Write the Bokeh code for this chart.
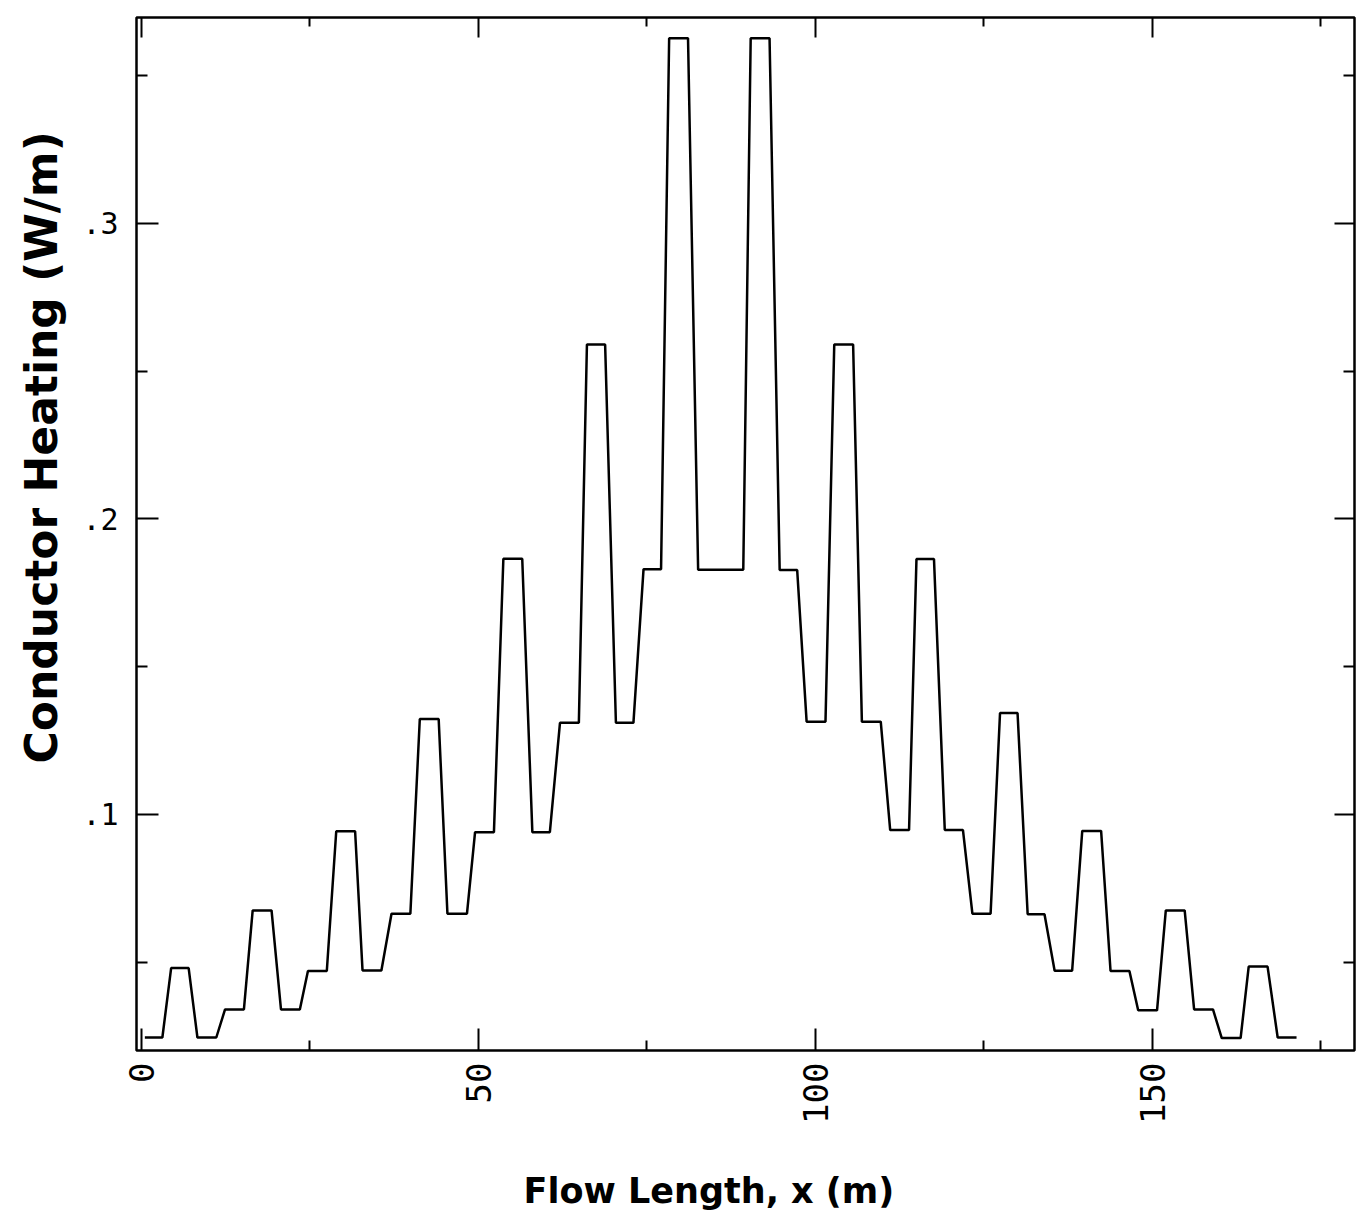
import math
from bokeh.plotting import figure
from bokeh.models import (Range1d, FixedTicker, LinearAxis, CustomJSTickFormatter, Title)
from bokeh.embed import file_html
from bokeh.resources import INLINE

# Step segments: start x, end x, level (W/m)
seg_start = [0.5, 4.4, 8.3, 12.4, 16.5, 20.7, 24.7, 28.9, 32.8, 37.1, 41.3, 45.4, 49.5, 53.7,
             58.0, 62.1, 66.1, 70.4, 74.5, 78.3, 82.6, 90.4, 94.7, 98.7, 102.8, 106.9, 111.1,
             115.0, 119.2, 123.3, 127.4, 131.5, 135.5, 139.6, 143.8, 147.9, 152.0, 156.2,
             160.3, 164.3, 168.6]
seg_end = [3.1, 7.0, 11.1, 15.2, 19.3, 23.5, 27.5, 31.7, 35.6, 39.9, 44.1, 48.3, 52.3, 56.5,
           60.6, 64.9, 68.8, 73.0, 77.1, 81.1, 89.3, 93.2, 97.3, 101.5, 105.6, 109.7, 113.9,
           117.6, 121.9, 126.0, 130.0, 134.0, 138.1, 142.4, 146.6, 150.7, 154.8, 159.0,
           163.1, 167.1, 171.4]
levels = [0.0245, 0.048, 0.0245, 0.034, 0.0675, 0.034, 0.047, 0.0943, 0.0472, 0.0664, 0.1323,
          0.0664, 0.094, 0.1865, 0.094, 0.131, 0.259, 0.131, 0.183, 0.3627, 0.1828, 0.3627,
          0.1827, 0.1314, 0.259, 0.1314, 0.0947, 0.1864, 0.0947, 0.0664, 0.1343, 0.0662,
          0.0471, 0.0944, 0.047, 0.0337, 0.0675, 0.034, 0.0243, 0.0485, 0.0245]

x_major = [0, 50, 100, 150]
x_minor = [25, 75, 125, 175]
y_major = [0.1, 0.2, 0.3]
y_minor = [0.05, 0.15, 0.25, 0.35]

xs, ys = [], []
for a, b, v in zip(seg_start, seg_end, levels):
    xs += [a, b]
    ys += [v, v]

p = figure(frame_width=1218, frame_height=1033,
           x_range=Range1d(-0.74, 180.0), y_range=Range1d(0.0201, 0.3697),
           output_backend="svg", toolbar_location=None,
           min_border_left=136, min_border_right=14, min_border_top=17, min_border_bottom=168)
p.background_fill_color = "white"
p.border_fill_color = "white"
p.outline_line_color = "black"
p.outline_line_width = 2.5
p.xgrid.visible = False
p.ygrid.visible = False

p.line(xs, ys, line_color="black", line_width=2.5)

fmt_y = CustomJSTickFormatter(code="return tick.toFixed(1).replace(/^0/, '');")
blank = CustomJSTickFormatter(code="return '';")

def style(ax, major_len, minor_len):
    ax.axis_line_color = None
    ax.major_tick_in = major_len
    ax.major_tick_out = 0
    ax.minor_tick_in = minor_len
    ax.minor_tick_out = 0
    ax.major_tick_line_color = "black"
    ax.minor_tick_line_color = "black"
    ax.major_tick_line_width = 2
    ax.minor_tick_line_width = 2

xb = p.xaxis[0]
xb.ticker = FixedTicker(ticks=x_major, minor_ticks=x_minor)
style(xb, 22, 10)
xb.major_label_orientation = math.pi / 2
xb.major_label_text_font = "DejaVu Sans Mono"
xb.major_label_text_font_size = "34px"
xb.major_label_text_color = "black"
xb.major_label_standoff = 12

yl = p.yaxis[0]
yl.ticker = FixedTicker(ticks=y_major, minor_ticks=y_minor)
yl.formatter = fmt_y
style(yl, 22, 11)
yl.major_label_text_font = "DejaVu Sans Mono"
yl.major_label_text_font_size = "30px"
yl.major_label_text_color = "black"
yl.major_label_standoff = 18

xt = LinearAxis(ticker=FixedTicker(ticks=x_major, minor_ticks=x_minor), formatter=blank)
style(xt, 20, 9)
xt.major_label_standoff = 0
p.add_layout(xt, "above")

yr = LinearAxis(ticker=FixedTicker(ticks=y_major, minor_ticks=y_minor), formatter=blank)
style(yr, 20, 11)
yr.major_label_standoff = 0
p.add_layout(yr, "right")

p.add_layout(Title(text="Conductor Heating (W/m)", align="left", offset=287, standoff=25,
                   text_font="DejaVu Sans", text_font_style="bold", text_font_size="44px",
                   text_color="black"), "left")
p.add_layout(Title(text="Flow Length, x (m)", align="left", offset=387, standoff=84,
                   text_font="DejaVu Sans", text_font_style="bold", text_font_size="35px",
                   text_color="black"), "below")

open("out.html", "w").write(file_html(p, INLINE))
